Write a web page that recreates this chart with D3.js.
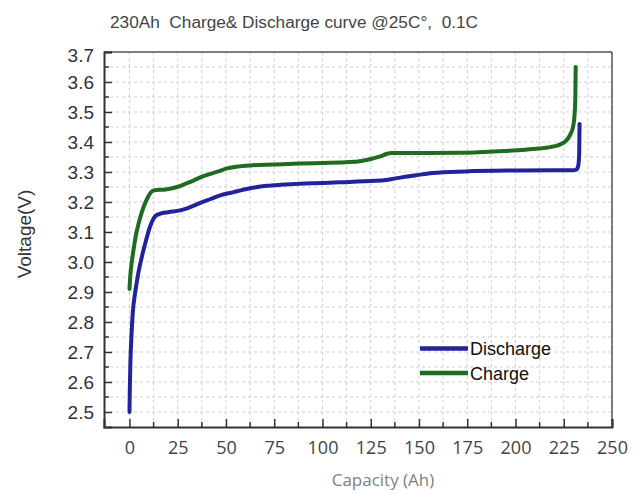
<!DOCTYPE html>
<html><head><meta charset="utf-8">
<script src="https://cdn.jsdelivr.net/npm/d3@7"></script>
<style>html,body{margin:0;padding:0;background:#fff;}svg{display:block;}</style>
</head><body>
<script>
const title = "230Ah  Charge& Discharge curve @25C°,  0.1C";
const xLabel = "Capacity (Ah)";
const yLabel = "Voltage(V)";
const xTicks = [0,25,50,75,100,125,150,175,200,225,250];
const yTicks = [2.5,2.6,2.7,2.8,2.9,3.0,3.1,3.2,3.3,3.4,3.5,3.6,3.7];
const seriesNames = ["Discharge","Charge"];
const seriesColors = ["#22229c","#1f6b1f"];
const dischargeCap = [0,0.2,0.5,1,1.7,3,4.5,6.5,8.5,10.5,12.5,14,16,20,26.3,29,31.5,36.7,42,47,53.9,62,71,80,88,100,114,125,133,137,142,148.6,157,174,200,220,229.5,231.5,232.5,233,233.2];
const dischargeV   = [2.5,2.583,2.672,2.75,2.83,2.9,2.96,3.02,3.07,3.115,3.145,3.156,3.161,3.166,3.172,3.177,3.183,3.197,3.21,3.222,3.233,3.245,3.254,3.258,3.261,3.263,3.267,3.27,3.273,3.278,3.283,3.289,3.297,3.302,3.305,3.306,3.306,3.308,3.32,3.36,3.46];
const chargeCap = [0,0.5,1.2,2.2,3.5,4.8,6,7.4,8.7,10,11.7,14,17.7,21,24.6,28,31.5,35,38.4,42,46,50,56,62.5,75,88,100,114,120,126,130,133,136,140,150,171,191,205,212,218,222,225,227,228.6,229.8,230.6,231,231.2];
const chargeV   = [2.91,2.96,3.0,3.045,3.095,3.13,3.158,3.185,3.205,3.222,3.236,3.24,3.241,3.244,3.25,3.258,3.267,3.277,3.286,3.294,3.302,3.311,3.318,3.322,3.325,3.328,3.33,3.333,3.337,3.345,3.352,3.36,3.363,3.363,3.363,3.364,3.369,3.374,3.378,3.383,3.389,3.398,3.41,3.428,3.45,3.49,3.55,3.65];

const W = 634, H = 493;
const svg = d3.select("body").append("svg").attr("width", W).attr("height", H);
const x = d3.scaleLinear().domain([-13.2, 250]).range([104, 612]);
const y = d3.scaleLinear().domain([2.45, 3.7]).range([427, 52]);

// grid
const gx = d3.range(0, 251, 12.5);
const gy = d3.range(0, 25).map(i => +(2.5 + i * 0.05).toFixed(2));
svg.append("g").selectAll("line").data(gx).join("line")
  .attr("x1", d => x(d)).attr("x2", d => x(d)).attr("y1", 52).attr("y2", 427)
  .attr("stroke", "#cfcfcf").attr("stroke-dasharray", "3,3").attr("stroke-width", 1);
svg.append("g").selectAll("line").data(gy).join("line")
  .attr("x1", 104).attr("x2", 612).attr("y1", d => y(d)).attr("y2", d => y(d))
  .attr("stroke", "#cfcfcf").attr("stroke-dasharray", "3,3").attr("stroke-width", 1);

// frame top/right
svg.append("line").attr("x1",104).attr("x2",612).attr("y1",52).attr("y2",52).attr("stroke","#555").attr("stroke-width",1.5);
svg.append("line").attr("x1",612).attr("x2",612).attr("y1",52).attr("y2",427).attr("stroke","#555").attr("stroke-width",1.5);

// axes
const xAxis = d3.axisBottom(x).tickValues(xTicks).tickSize(-8).tickPadding(14).tickFormat(d3.format("d"));
const gX = svg.append("g").attr("transform", "translate(0,427)").call(xAxis);
gX.select(".domain").attr("stroke", "#333").attr("stroke-width", 2);
gX.selectAll(".tick line").attr("stroke", "#333").attr("stroke-width", 1.5);
gX.selectAll("text").attr("font-family", "'Open Sans', sans-serif").attr("font-size", 18).attr("fill", "#444");
const xMinor = d3.range(12.5, 250, 25);
svg.append("g").selectAll("line").data(xMinor).join("line")
  .attr("x1", d => x(d)).attr("x2", d => x(d)).attr("y1", 427).attr("y2", 422)
  .attr("stroke", "#333").attr("stroke-width", 1.5);

const yAxis = d3.axisLeft(y).tickValues(yTicks).tickSize(-8).tickPadding(10).tickFormat(d3.format(".1f"));
const gY = svg.append("g").attr("transform", "translate(104,0)").call(yAxis);
gY.select(".domain").attr("stroke", "#333").attr("stroke-width", 2);
gY.selectAll(".tick line").attr("stroke", "#333").attr("stroke-width", 1.5);
gY.selectAll("text").attr("font-family", "'Liberation Sans', Arial, sans-serif").attr("font-size", 19).attr("fill", "#333");
gY.selectAll(".tick").filter(d => d === 3.7).select("text").attr("dy", "0.5em");
const yMinor = d3.range(0, 12).map(i => +(2.55 + i * 0.1).toFixed(2));
svg.append("g").selectAll("line").data(yMinor).join("line")
  .attr("x1", 104).attr("x2", 109).attr("y1", d => y(d)).attr("y2", d => y(d))
  .attr("stroke", "#333").attr("stroke-width", 1.5);

// curves
const line = d3.line().x(d => x(d[0])).y(d => y(d[1])).curve(d3.curveMonotoneX);
const dis = dischargeCap.map((c, i) => [c, dischargeV[i]]);
const chg = chargeCap.map((c, i) => [c, chargeV[i]]);
svg.append("path").datum(dis).attr("d", line).attr("fill", "none").attr("stroke", seriesColors[0]).attr("stroke-width", 4).attr("stroke-linejoin","round").attr("stroke-linecap","round");
svg.append("path").datum(chg).attr("d", line).attr("fill", "none").attr("stroke", seriesColors[1]).attr("stroke-width", 4).attr("stroke-linejoin","round").attr("stroke-linecap","round");

// legend
const leg = svg.append("g");
seriesNames.forEach((n, i) => {
  const ly = 348.5 + i * 24.5;
  leg.append("line").attr("x1", 420).attr("x2", 468).attr("y1", ly).attr("y2", ly)
    .attr("stroke", seriesColors[i]).attr("stroke-width", 4.5);
  leg.append("text").attr("x", 470).attr("y", ly + 6.5).text(n)
    .attr("font-family", "'Liberation Sans', Arial, sans-serif").attr("font-size", 18).attr("fill", "#111");
});

// titles
svg.append("text").attr("x", 110).attr("y", 28).text(title)
  .style("white-space", "pre")
  .attr("font-family", "'Liberation Sans', Arial, sans-serif").attr("font-size", 16).attr("fill", "#444")
  .attr("textLength", 368).attr("lengthAdjust", "spacingAndGlyphs");
svg.append("text").attr("x", 383).attr("y", 486).attr("text-anchor", "middle").text(xLabel)
  .attr("font-family", "'Open Sans', sans-serif").attr("font-size", 17).attr("fill", "#808080");
svg.append("text").attr("transform", "translate(31,234) rotate(-90)").attr("text-anchor", "middle").text(yLabel)
  .attr("font-family", "'Liberation Sans', Arial, sans-serif").attr("font-size", 19).attr("fill", "#333");
</script>
</body></html>
